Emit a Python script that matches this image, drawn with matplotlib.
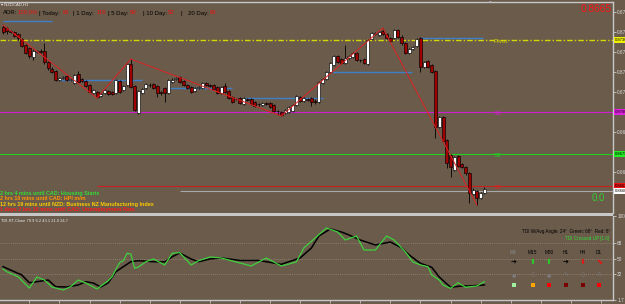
import numpy as np
import matplotlib
matplotlib.use("Agg")
import matplotlib.pyplot as plt
from matplotlib.patches import Rectangle

W, H = 625, 304
BG = "#6a5b4b"
LIGHT = "#c8c8c8"

# ---------------- data ----------------
OPEN = [0.87425,0.87420,0.87405,0.87400,0.87390,0.87365,0.87335,0.87320,0.87275,0.87300,
        0.87305,0.87305,0.87250,0.87215,0.87205,0.87160,0.87172,0.87180,0.87160,0.87145,
        0.87190,0.87165,0.87155,0.87135,0.87095,0.87100,0.87080,0.87095,0.87105,0.87100,
        0.87095,0.87155,0.87110,0.87135,0.87240,0.87130,0.86995,0.87095,0.87120,0.87136,
        0.87140,0.87130,0.87100,0.87120,0.87095,0.87150,0.87165,0.87175,0.87155,0.87135,
        0.87125,0.87105,0.87120,0.87120,0.87145,0.87135,0.87135,0.87125,0.87095,0.87130,
        0.87105,0.87075,0.87066,0.87070,0.87040,0.87065,0.87065,0.87050,0.87041,0.87035,
        0.87045,0.87045,0.87035,0.87006,0.87000,0.86995,0.87000,0.87005,0.87035,0.87075,
        0.87055,0.87065,0.87070,0.87055,0.87050,0.87145,0.87165,0.87200,0.87235,0.87280,
        0.87265,0.87245,0.87270,0.87275,0.87295,0.87261,0.87265,0.87240,0.87365,0.87390,
        0.87385,0.87405,0.87390,0.87370,0.87370,0.87410,0.87375,0.87345,0.87295,0.87315,
        0.87330,0.87370,0.87225,0.87255,0.87235,0.87205,0.86925,0.86975,0.86860,0.86785,
        0.86710,0.86780,0.86740,0.86725,0.86695,0.86590,0.86605,0.86570,0.86595]
CLOSE = [0.87400,0.87405,0.87400,0.87380,0.87370,0.87330,0.87295,0.87280,0.87305,0.87305,
         0.87302,0.87250,0.87220,0.87200,0.87160,0.87170,0.87175,0.87160,0.87165,0.87185,
         0.87150,0.87155,0.87130,0.87100,0.87110,0.87075,0.87090,0.87110,0.87090,0.87090,
         0.87160,0.87100,0.87130,0.87240,0.87125,0.87010,0.87105,0.87115,0.87140,0.87134,
         0.87120,0.87095,0.87095,0.87095,0.87160,0.87160,0.87170,0.87150,0.87135,0.87120,
         0.87100,0.87120,0.87125,0.87145,0.87135,0.87130,0.87115,0.87095,0.87125,0.87100,
         0.87070,0.87050,0.87064,0.87045,0.87070,0.87060,0.87040,0.87030,0.87039,0.87045,
         0.87040,0.87025,0.87005,0.87004,0.86985,0.87010,0.87025,0.87035,0.87080,0.87055,
         0.87070,0.87060,0.87050,0.87050,0.87150,0.87165,0.87200,0.87245,0.87280,0.87250,
         0.87245,0.87270,0.87280,0.87295,0.87260,0.87259,0.87245,0.87360,0.87395,0.87395,
         0.87400,0.87390,0.87370,0.87355,0.87410,0.87375,0.87345,0.87295,0.87315,0.87325,
         0.87365,0.87225,0.87250,0.87225,0.87200,0.86925,0.86975,0.86855,0.86745,0.86725,
         0.86775,0.86730,0.86725,0.86695,0.86595,0.86610,0.86570,0.86595,0.86615]
HIGH = [0.87435,0.87425,0.87410,0.87405,0.87395,0.87370,0.87340,0.87325,0.87315,0.87310,
        0.87315,0.87345,0.87255,0.87225,0.87210,0.87175,0.87180,0.87185,0.87170,0.87190,
        0.87205,0.87170,0.87160,0.87140,0.87115,0.87105,0.87095,0.87115,0.87110,0.87105,
        0.87165,0.87160,0.87135,0.87245,0.87265,0.87135,0.87110,0.87120,0.87145,0.87145,
        0.87145,0.87135,0.87105,0.87125,0.87165,0.87170,0.87175,0.87180,0.87160,0.87140,
        0.87130,0.87125,0.87130,0.87150,0.87150,0.87140,0.87140,0.87130,0.87130,0.87145,
        0.87110,0.87080,0.87070,0.87075,0.87075,0.87070,0.87070,0.87055,0.87045,0.87050,
        0.87050,0.87050,0.87040,0.87010,0.87005,0.87015,0.87030,0.87040,0.87085,0.87080,
        0.87075,0.87070,0.87075,0.87065,0.87155,0.87170,0.87205,0.87250,0.87285,0.87285,
        0.87270,0.87335,0.87285,0.87300,0.87300,0.87265,0.87270,0.87365,0.87400,0.87400,
        0.87405,0.87420,0.87395,0.87375,0.87415,0.87415,0.87385,0.87350,0.87320,0.87330,
        0.87370,0.87375,0.87255,0.87260,0.87240,0.87210,0.86980,0.86980,0.86865,0.86790,
        0.86780,0.86785,0.86745,0.86730,0.86700,0.86620,0.86610,0.86600,0.86625]
LOW = [0.87390,0.87390,0.87395,0.87375,0.87360,0.87325,0.87290,0.87270,0.87260,0.87295,
       0.87295,0.87240,0.87210,0.87195,0.87155,0.87155,0.87165,0.87155,0.87155,0.87140,
       0.87145,0.87150,0.87125,0.87095,0.87090,0.87070,0.87075,0.87090,0.87085,0.87085,
       0.87090,0.87095,0.87105,0.87130,0.87120,0.87005,0.86990,0.87090,0.87115,0.87125,
       0.87115,0.87075,0.87085,0.87050,0.87090,0.87145,0.87160,0.87145,0.87130,0.87115,
       0.87095,0.87100,0.87115,0.87115,0.87130,0.87125,0.87110,0.87090,0.87090,0.87095,
       0.87065,0.87045,0.87060,0.87040,0.87035,0.87055,0.87035,0.87025,0.87030,0.87030,
       0.87035,0.87020,0.87000,0.86985,0.86980,0.86990,0.86995,0.87000,0.87030,0.87050,
       0.87050,0.87055,0.87030,0.87040,0.87045,0.87140,0.87160,0.87195,0.87230,0.87245,
       0.87240,0.87240,0.87265,0.87270,0.87255,0.87250,0.87240,0.87235,0.87360,0.87385,
       0.87380,0.87385,0.87365,0.87350,0.87365,0.87370,0.87335,0.87290,0.87290,0.87310,
       0.87325,0.87200,0.87220,0.87220,0.87195,0.86870,0.86920,0.86850,0.86720,0.86675,
       0.86705,0.86725,0.86720,0.86685,0.86545,0.86585,0.86535,0.86565,0.86590]

ZZ_BARS = [0, 25, 34, 74, 101, 126]
ZZ_PRICES = [0.87435, 0.87070, 0.87265, 0.86980, 0.87420, 0.86535]

# blue horizontal segments: (start bar, end bar, price)
SR_START = [0, 15, 44, 64, 87.5, 111]
SR_END = [13, 37, 61, 85, 108.8, 127.6]
SR_PRICE = [0.87457, 0.87160, 0.87118, 0.87068, 0.87198, 0.87368]

PIVOT, S1, S2, S3, BID = 0.87360, 0.87000, 0.86790, 0.86630, 0.86605
LEVEL_NAMES = ["Pivot", "S1", "S2", "S3"]

G_BARS = [0,1,4,7,9,11,13,16,18,20,22,25,28,29,31,32,33,34,35,36,38,40,43,45,47,50,52,55,
          58,62,66,70,74,78,80,83,86,89,91,94,96,99,102,104,107,109,111,113,114,116,117,119,
          121,123,126,128]
G_VALS = [38.0,34.8,29.0,15.7,28.6,25.1,16.9,13.4,17.3,25.1,21.6,14.6,24.3,29.0,45.4,47.7,
          56.4,55.5,38.8,40.3,46.5,49.7,42.7,56.4,57.1,42.7,47.7,52.0,
          50.9,46.2,41.5,50.9,41.5,46.2,62.6,74.3,86.0,81.3,71.9,76.6,60.2,60.2,76.6,71.9,
          57.9,46.2,42.7,40.7,31.0,25.1,19.3,15.4,21.9,16.6,18.1,23.1]
B_BARS = [0,2,5,7,9,12,14,17,20,22,24,26,28,30,32,34,36,40,43,45,47,50,52,55,58,63,68,74,
          79,82,84,87,90,92,95,99,103,106,108,111,114,116,119,122,124,128]
B_VALS = [40.7,36.8,31.0,21.9,23.1,25.1,17.3,16.9,19.3,23.1,21.6,16.9,21.9,34.8,40.7,46.5,
          47.7,46.5,46.2,52.4,56.7,49.7,46.5,49.7,50.9,48.0,48.0,43.5,
          50.9,62.6,76.6,84.8,81.3,77.8,71.9,66.1,69.6,62.6,54.4,44.6,40.0,28.6,16.6,18.1,
          18.1,19.3]
TDI_LEVELS = [68, 50, 32]

TF = ["M5", "M15", "M30", "H1", "H4", "D1"]
TF_ARROWS = ["\u2794", "\u2B06", "\u2B06", "\u2794", "\u2B07", "\u2B0A"]
TF_ARROW_COL = ["black", "#22dd22", "#22dd22", "black", "#ee1111", "#ee1111"]
TF_SQ_COL = ["#9ef29e", "#ffa500", "#ff0000", "#7a0000", "#7a0000", "#ff0000"]

# ---------------- figure ----------------
plt.rcParams["font.family"] = ["Liberation Sans", "DejaVu Sans"]
fig = plt.figure(figsize=(W / 100, H / 100), dpi=100)
fig.patch.set_facecolor(BG)


def fx(x):
    return x / W


def fy(y):
    return 1 - y / H


ax = fig.add_axes([0, 91 / H, 613 / W, 211 / H])
ax2 = fig.add_axes([0, 4 / H, 613 / W, 84 / H], sharex=ax)
for a in (ax, ax2):
    a.set_facecolor(BG)
    a.spines["left"].set_visible(False)
    a.spines["right"].set_color(LIGHT)
    a.spines["right"].set_linewidth(1)
    a.yaxis.tick_right()
    a.tick_params(axis="y", direction="out", length=2, width=0.6, color=LIGHT,
                  labelsize=3.4, labelcolor="#dcdcdc", pad=1)
ax.spines["bottom"].set_visible(False)
ax.spines["top"].set_color(LIGHT)
ax.spines["top"].set_linewidth(1)
ax2.spines["top"].set_visible(False)
ax2.spines["bottom"].set_color(LIGHT)
ax2.spines["bottom"].set_linewidth(1)

ax.set_xlim(-0.8, 162.2)
ax.set_ylim(0.86495, 0.8755)
ax2.set_ylim(1.7, 100.0)

# separator band
fig.patches.append(Rectangle((0, fy(216)), fx(613), 3 / H, transform=fig.transFigure,
                             facecolor=LIGHT, edgecolor="none"))

# level lines
ax.axhline(PIVOT, color="#d6d600", lw=1.0, dashes=(4, 1.5, 1, 1.5), zorder=2)
ax.axhline(S1, color="#d21ed2", lw=0.8, zorder=2)
ax.axhline(S2, color="#1ed21e", lw=0.8, zorder=2)
ax.hlines(S3, 25, 162.2, color="#cc2020", lw=0.8, zorder=2)
ax.hlines(BID, 47, 162.2, color="#a8a8a8", lw=0.8, zorder=2)

# blue support/resistance segments
ax.hlines(SR_PRICE, SR_START, SR_END, color="#3f7fc8", lw=1.0, zorder=2)

# candles
o = np.array(OPEN); c = np.array(CLOSE); h = np.array(HIGH); l = np.array(LOW)
bars = np.arange(len(o))
up = c >= o
ax.vlines(bars, l, h, color="black", lw=0.6, zorder=3)
body_bottom = np.minimum(o, c)
body_h = np.maximum(np.abs(c - o), 0.000008)
ax.bar(bars, body_h, bottom=body_bottom, width=0.8,
       color=np.where(up, "white", "#a00000"), edgecolor="black", linewidth=0.45, zorder=4)

# zigzag
ax.plot(ZZ_BARS, ZZ_PRICES, color="#dd2222", lw=0.7, zorder=5)

# level labels
lab_col = ["#d6d600", "#d21ed2", "#1ed21e", "#dd2222"]
for name, lvl, col in zip(LEVEL_NAMES, [PIVOT, S1, S2, S3], lab_col):
    ax.text(130.5, lvl - 0.00008, name, color=col, fontsize=4.6, va="center", ha="left", zorder=6)

# y ticks main (labels hidden where a price box covers them)
ax.set_yticks([0.8750, 0.8740, 0.8730, 0.8720, 0.8710, 0.8700, 0.8690, 0.8680, 0.8670, 0.8660])
ax.set_yticklabels(["0.8750", "0.8740", "0.8730", "0.8720", "0.8710", "", "0.8690",
                    "", "0.8670", ""])
ax.tick_params(axis="x", which="both", bottom=False, labelbottom=False)

# price boxes on the right axis
box_specs = [(PIVOT, "#f0f000"), (S1, "#e020e0"), (S2, "#22ee22"), (S3, "#ee1111"), (BID, "#ffffff")]
for lvl, col in box_specs:
    ax.text(1.003, lvl, "%.5f" % lvl, transform=ax.get_yaxis_transform(), fontsize=3.0,
            color="black", va="center", ha="left", clip_on=False, zorder=7,
            bbox=dict(boxstyle="square,pad=0.2", facecolor=col, edgecolor="none"))

# TDI subwindow
for lv in TDI_LEVELS:
    ax2.axhline(lv, color="#9a8a78", lw=0.6, ls=(0, (1, 1.5)), zorder=1)
ax2.plot(B_BARS, B_VALS, color="black", lw=1.1, zorder=3)
ax2.plot(G_BARS, G_VALS, color="#3ed23e", lw=0.9, zorder=4)
ax2.set_yticks([100.0, 68, 50, 32, 1.7])
ax2.set_yticklabels(["100.0", "68", "50", "32", "1.7"])
ax2.set_xticks(np.arange(7, 162, 8))
ax2.tick_params(axis="x", direction="out", length=2.5, width=0.6, color=LIGHT,
                labelbottom=False)

# ---------------- texts ----------------
fig.text(fx(1), fy(5), "\u25BE NZDCAD,H1", color="#f0f0f0", fontsize=3.0, va="center", ha="left")

adr = [("ADR:", 3, "black"), ("126.0%", 18, "#ee1111"), ("| Today:", 39, "black"),
       ("65", 62.5, "#ee1111"), ("| 1 Day:", 73, "black"), ("116", 97, "#ee1111"),
       ("| 5 Day:", 108.5, "black"), ("59", 130, "#ee1111"), ("| 10 Day:", 143, "black"),
       ("52", 168, "#ee1111"), ("|", 180.5, "black"), ("20 Day:", 188, "black"),
       ("63", 210, "#ee1111")]
for s, x, col in adr:
    fig.text(fx(x), fy(13), s, color=col, fontsize=4.3, va="center", ha="left")

fig.text(fx(612), fy(9), "0.8665", color="#ff1010", fontsize=7.3, va="center", ha="right")
fig.text(fx(592), fy(198), "0.0", color="#33cc33", fontsize=7.0, va="center", ha="left")

events = [("2 hrs 4 mins until CAD: Housing Starts", "#33dd33", 193.5),
          ("2 hrs 10 mins until CAD: HPI m/m", "#ff9900", 199),
          ("12 hrs 19 mins until NZD: Business NZ Manufacturing Index", "#ffcc00", 204.5),
          ("1 days 2 hrs 10 mins until CAD: Unemployment Rate", "#ff1a1a", 210)]
for s, col, y in events:
    fig.text(fx(0.5), fy(y), s, color=col, fontsize=3.85, fontweight="bold", va="center", ha="left")

fig.text(fx(1), fy(221), "TDI-RT-Clone 79.9 6.2 43.1 21.0 24.7", color="#e8e8e8",
         fontsize=2.9, va="center", ha="left")
fig.text(fx(610), fy(232), "TDI W/Avg Angle: 24\u00b0  Green: 68\u00b0  Red: 8\u00b0", color="black",
         fontsize=3.3, va="center", ha="right")
fig.text(fx(609), fy(238.5), "TDI Crossed UP [1.6]", color="#33dd33", fontsize=3.3,
         va="center", ha="right")

tf_x = [513.5, 532.5, 549.0, 565.5, 583.0, 599.0]
circ = ["\u25CF", "\u25CB", "\u25CF", "\u270E", "\u25CB", "\u2042"]
for i, (name, x) in enumerate(zip(TF, tf_x)):
    fig.text(fx(x), fy(252), name, color="#8c8c8c" if i == 0 else "black", fontsize=3.4,
             va="center", ha="center")
    fig.text(fx(x), fy(262), TF_ARROWS[i], color=TF_ARROW_COL[i], fontsize=5.0,
             va="center", ha="center", family=["DejaVu Sans"])
    fig.text(fx(x), fy(274.5), circ[i], color="#7a7a7a", fontsize=3.6, va="center",
             ha="center", family=["DejaVu Sans"])
    fig.patches.append(Rectangle((fx(x - 2), fy(286.5)), 4 / W, 4 / H, transform=fig.transFigure,
                                 facecolor=TF_SQ_COL[i], edgecolor="none"))

# chart shift marker
fig.text(fx(490), fy(2.2), "\u25BC", color="#a8b0c0", fontsize=2.5, va="center", ha="center",
         family=["DejaVu Sans"])

fig.savefig("out.png", dpi=100, facecolor=BG)
